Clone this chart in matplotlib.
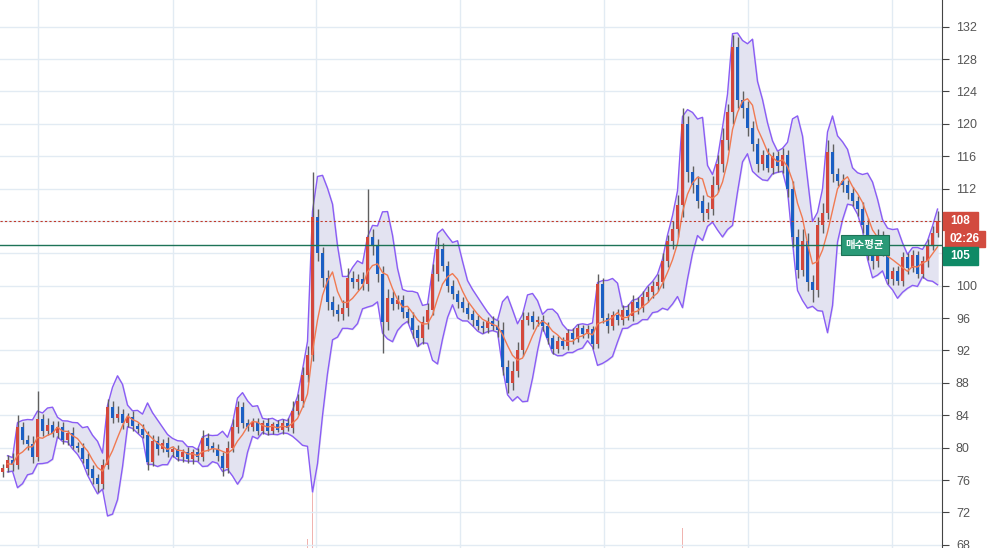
import numpy as np
import pandas as pd
import matplotlib
matplotlib.use("Agg")
import matplotlib.pyplot as plt
from matplotlib import transforms
from matplotlib.patches import Rectangle

# closing prices, one candle per ~5px in the screenshot
closes = [
    77.5, 78.5, 77.8, 82.5, 81.0, 80.5, 78.8, 83.5, 82.0, 82.8,
    81.8, 82.6, 81.0, 81.8, 80.2, 80.0, 78.6, 77.4, 76.2, 75.5,
    77.8, 85.0, 83.6, 84.2, 83.0, 83.8, 82.7, 82.3, 81.6, 78.2,
    80.8, 79.8, 80.6, 79.4, 79.8, 78.8, 79.5, 78.6, 79.4, 78.8,
    81.2, 80.2, 79.8, 79.0, 77.5, 80.0, 82.5, 85.0, 83.0, 82.5,
    83.2, 82.0, 83.0, 82.1, 82.9, 82.2, 83.1, 82.4, 84.5, 85.8,
    89.0, 91.5, 108.5, 104.0, 101.0, 98.0, 97.0, 96.5, 97.2, 101.0,
    100.5, 100.8, 100.2, 106.0, 105.0, 101.5, 95.5, 98.5, 97.8, 98.2,
    96.8, 96.0, 94.5, 93.5, 95.5, 97.0, 101.5, 104.5, 102.5, 100.0,
    99.0, 98.0, 97.2, 96.5, 95.8, 95.0, 94.8, 95.6, 95.0, 94.5,
    90.0, 88.0, 89.5, 92.0, 95.8, 96.2, 95.5, 95.8, 95.0, 93.5,
    92.2, 93.2, 92.6, 94.2, 93.4, 94.8, 94.0, 94.6, 92.8, 100.2,
    96.0, 95.0, 96.4, 95.8, 97.0, 96.3, 98.0, 97.2, 98.6, 99.2,
    100.0, 100.5, 103.0, 105.5, 107.0, 110.0, 120.0, 114.0, 112.5, 110.5,
    109.0, 109.5, 112.5, 115.0, 118.0, 121.5, 129.5, 123.0, 122.0, 119.5,
    117.5, 115.0, 116.2, 114.6, 116.0, 114.8, 116.2, 112.0, 106.0, 102.0,
    105.5, 100.5, 99.5, 107.5, 109.0, 116.5, 113.8, 113.0, 112.5, 111.5,
    110.5, 109.5, 107.5, 104.0, 103.0, 106.0, 104.5, 100.8, 101.8, 100.6,
    103.5, 102.2, 103.8, 101.5, 103.0, 105.0, 106.5, 108.0,
]
first_open = 77.0

hi_wick = [
    0.5, 0.6, 0.8, 1.5, 0.7, 0.5, 0.9, 3.5, 0.6, 0.8,
    0.5, 0.7, 0.6, 0.4, 0.8, 0.5, 0.6, 0.7, 0.5, 0.6,
    0.8, 1.0, 0.7, 0.9, 0.6, 0.5, 0.7, 0.4, 0.6, 0.5,
    0.8, 0.6, 0.5, 0.7, 0.4, 0.5, 0.3, 0.6, 0.4, 0.5,
    1.0, 0.6, 0.5, 0.7, 0.5, 0.8, 1.0, 0.8, 0.6, 0.5,
    0.4, 0.5, 0.4, 0.6, 0.3, 0.5, 0.4, 0.5, 1.2, 0.8,
    0.9, 1.0, 5.5, 1.0, 0.8, 1.0, 0.7, 0.8, 1.0, 1.2,
    0.8, 0.6, 0.9, 6.0, 1.0, 0.8, 1.0, 1.1, 0.8, 0.6,
    0.7, 0.5, 0.8, 0.6, 0.7, 0.9, 1.2, 1.5, 0.8, 0.6,
    0.7, 0.5, 0.6, 0.8, 0.5, 0.6, 0.7, 0.5, 0.6, 0.8,
    1.0, 0.8, 1.2, 1.0, 0.9, 0.6, 0.7, 0.5, 0.6, 0.5,
    0.4, 0.6, 0.5, 0.4, 0.6, 0.5, 0.4, 0.5, 0.4, 1.3,
    0.8, 0.6, 0.5, 0.7, 0.6, 0.8, 0.9, 0.6, 0.7, 0.8,
    0.6, 0.9, 1.0, 0.8, 1.0, 1.2, 2.0, 1.0, 0.8, 1.0,
    0.7, 0.9, 1.0, 1.2, 1.5, 1.0, 1.5, 1.2, 1.0, 0.8,
    0.9, 0.7, 0.6, 0.8, 0.5, 0.7, 0.8, 0.6, 0.9, 1.0,
    1.5, 1.0, 0.8, 1.0, 1.2, 1.5, 1.0, 0.7, 0.8, 0.6,
    0.7, 0.6, 0.8, 0.9, 0.7, 1.0, 0.8, 0.6, 0.5, 0.6,
    0.7, 0.5, 0.6, 0.5, 0.7, 0.8, 0.9, 1.2,
]

lo_wick = [
    0.6, 0.5, 0.7, 0.5, 0.6, 0.8, 0.7, 0.5, 0.6, 0.4,
    0.5, 0.6, 0.5, 0.7, 0.4, 0.6, 0.5, 0.8, 0.7, 1.0,
    0.6, 0.5, 0.6, 0.4, 0.7, 0.5, 0.6, 0.5, 0.4, 1.0,
    0.5, 0.7, 0.4, 0.6, 0.5, 0.4, 0.6, 0.5, 0.6, 0.4,
    0.5, 0.6, 0.4, 0.7, 1.0, 0.6, 0.5, 0.7, 0.6, 0.5,
    0.4, 0.5, 0.3, 0.5, 0.4, 0.3, 0.5, 0.4, 0.6, 0.5,
    0.8, 0.9, 0.8, 1.0, 1.2, 1.0, 0.8, 0.9, 0.7, 1.0,
    0.8, 1.0, 0.7, 0.9, 1.2, 1.0, 3.8, 1.0, 0.8, 0.7,
    0.8, 0.6, 0.9, 1.0, 0.7, 0.8, 0.6, 0.9, 0.7, 0.8,
    0.6, 0.7, 0.5, 0.6, 0.8, 0.5, 0.6, 0.7, 0.5, 0.8,
    1.0, 1.2, 0.9, 0.8, 0.7, 0.6, 0.8, 0.5, 0.6, 0.7,
    0.6, 0.5, 0.4, 0.5, 0.6, 0.4, 0.5, 0.4, 0.6, 0.5,
    0.6, 0.8, 0.5, 0.6, 0.7, 0.5, 0.6, 0.7, 0.5, 0.6,
    0.7, 0.6, 0.8, 0.7, 0.9, 1.0, 1.5, 1.2, 1.0, 0.9,
    1.0, 0.8, 0.7, 0.9, 1.0, 1.2, 1.5, 1.0, 1.3, 1.0,
    0.8, 0.9, 0.7, 0.6, 0.8, 0.7, 0.9, 1.0, 1.2, 1.0,
    0.8, 1.2, 1.5, 0.9, 1.0, 0.8, 1.0, 0.7, 0.9, 0.8,
    0.7, 0.9, 1.0, 0.8, 0.9, 0.7, 0.8, 0.6, 0.7, 0.5,
    0.6, 0.7, 0.5, 0.6, 0.5, 0.7, 0.6, 0.5,
]

volume = [0.3] * 61 + [10, 60] + [0.3] * 73 + [22] + [0.3] * 51

avg_price = 105.05      # 매수평균
last_price = 108.0
timer_text = "02:26"
yticks = list(range(68, 133, 4))
hidden_ticks = [104, 108]   # covered by the price tags

plt.rcParams['font.family'] = ['Liberation Sans', 'Noto Sans CJK KR', 'DejaVu Sans']

closes = np.array(closes)
opens = np.concatenate([[first_open], closes[:-1]])
highs = np.maximum(opens, closes) + np.array(hi_wick)
lows = np.minimum(opens, closes) - np.array(lo_wick)
x = np.arange(len(closes))

# bollinger bands on the closes
s = pd.Series(closes)
mid = s.rolling(5, min_periods=2).mean()
sd = s.rolling(5, min_periods=2).std(ddof=0)
upper = mid + 2 * sd
lower = mid - 2 * sd

fig = plt.figure(figsize=(10, 5.48), dpi=100)
ax = fig.add_axes([0, 0, 0.942, 1])

# volume on its own scale at the bottom
vax = ax.twinx()
vax.bar(x, volume, width=0.3, color='#f0b4b0', zorder=1)
vax.set_ylim(0, 600)
vax.axis('off')
ax.set_zorder(vax.get_zorder() + 1)
ax.patch.set_visible(False)

for yt in yticks:
    ax.axhline(yt, color='#e2ebf3', lw=1, zorder=0)
for gx in [7.1, 34.1, 62.7, 91.5, 120.3, 149.1, 177.9]:
    ax.axvline(gx, color='#e2ebf3', lw=1, zorder=0)

ax.fill_between(x, lower, upper, color='#e3e3f1', zorder=1)
ax.plot(x, upper, color='#8a5cf5', lw=1, zorder=2)
ax.plot(x, lower, color='#8a5cf5', lw=1, zorder=2)

up = closes >= opens
colors = np.where(up, '#d4483c', '#1b5fc4')
ax.vlines(x, lows, highs, color='#5f5f5f', lw=1, zorder=3)
body_h = np.maximum(np.abs(closes - opens), 0.15)
ax.bar(x, body_h, bottom=np.minimum(opens, closes), width=0.75,
       color=colors, zorder=4)

ax.plot(x, mid, color='#f07a52', lw=1, zorder=5)

ax.axhline(last_price, color='#c0392b', lw=0.8, ls=(0, (2, 2)), zorder=6)
ax.axhline(avg_price, color='#1d7357', lw=1, zorder=6)

ax.text(172.5, avg_price, "매수평균", color='white', fontsize=7.5, fontweight='bold',
        ha='center', va='center', zorder=7,
        bbox=dict(boxstyle='square,pad=0.45', fc='#2a9a77', ec='#1d7357', lw=0.8))

ax.set_xlim(-0.5, 187.9)
ax.set_ylim(67.6, 135.3)
ax.set_yticks(yticks)
ax.set_yticklabels(['' if t in hidden_ticks else str(t) for t in yticks])
ax.set_xticks([])
ax.yaxis.tick_right()
ax.tick_params(axis='y', length=5, color='#444444', labelcolor='#555555',
               labelsize=9, pad=5)
for side in ['top', 'left', 'bottom']:
    ax.spines[side].set_visible(False)
ax.spines['right'].set_color('#444444')

# price tags on the axis
tr = transforms.blended_transform_factory(fig.transFigure, ax.transData)
unit = 1.0 / 8.09
fig.add_artist(Rectangle((0.943, last_price - 9 * unit), 0.035, 18 * unit,
                         transform=tr, color='#d24b3f', zorder=10))
fig.text(0.9605, last_price, "108", transform=tr, color='white', fontsize=8.5,
         fontweight='bold', ha='center', va='center', zorder=11)
timer_y = last_price - 18 * unit
fig.add_artist(Rectangle((0.945, timer_y - 8 * unit), 0.040, 16 * unit,
                         transform=tr, color='#d24b3f', zorder=10))
fig.text(0.965, timer_y, timer_text, transform=tr, color='white', fontsize=8.5,
         fontweight='bold', ha='center', va='center', zorder=11)
avg_tag_y = last_price - 35 * unit
fig.add_artist(Rectangle((0.943, avg_tag_y - 9 * unit), 0.035, 18 * unit,
                         transform=tr, color='#0e8a66', zorder=10))
fig.text(0.9605, avg_tag_y, "105", transform=tr, color='white', fontsize=8.5,
         fontweight='bold', ha='center', va='center', zorder=11)

plt.savefig("out.png", dpi=100)
plt.close()
